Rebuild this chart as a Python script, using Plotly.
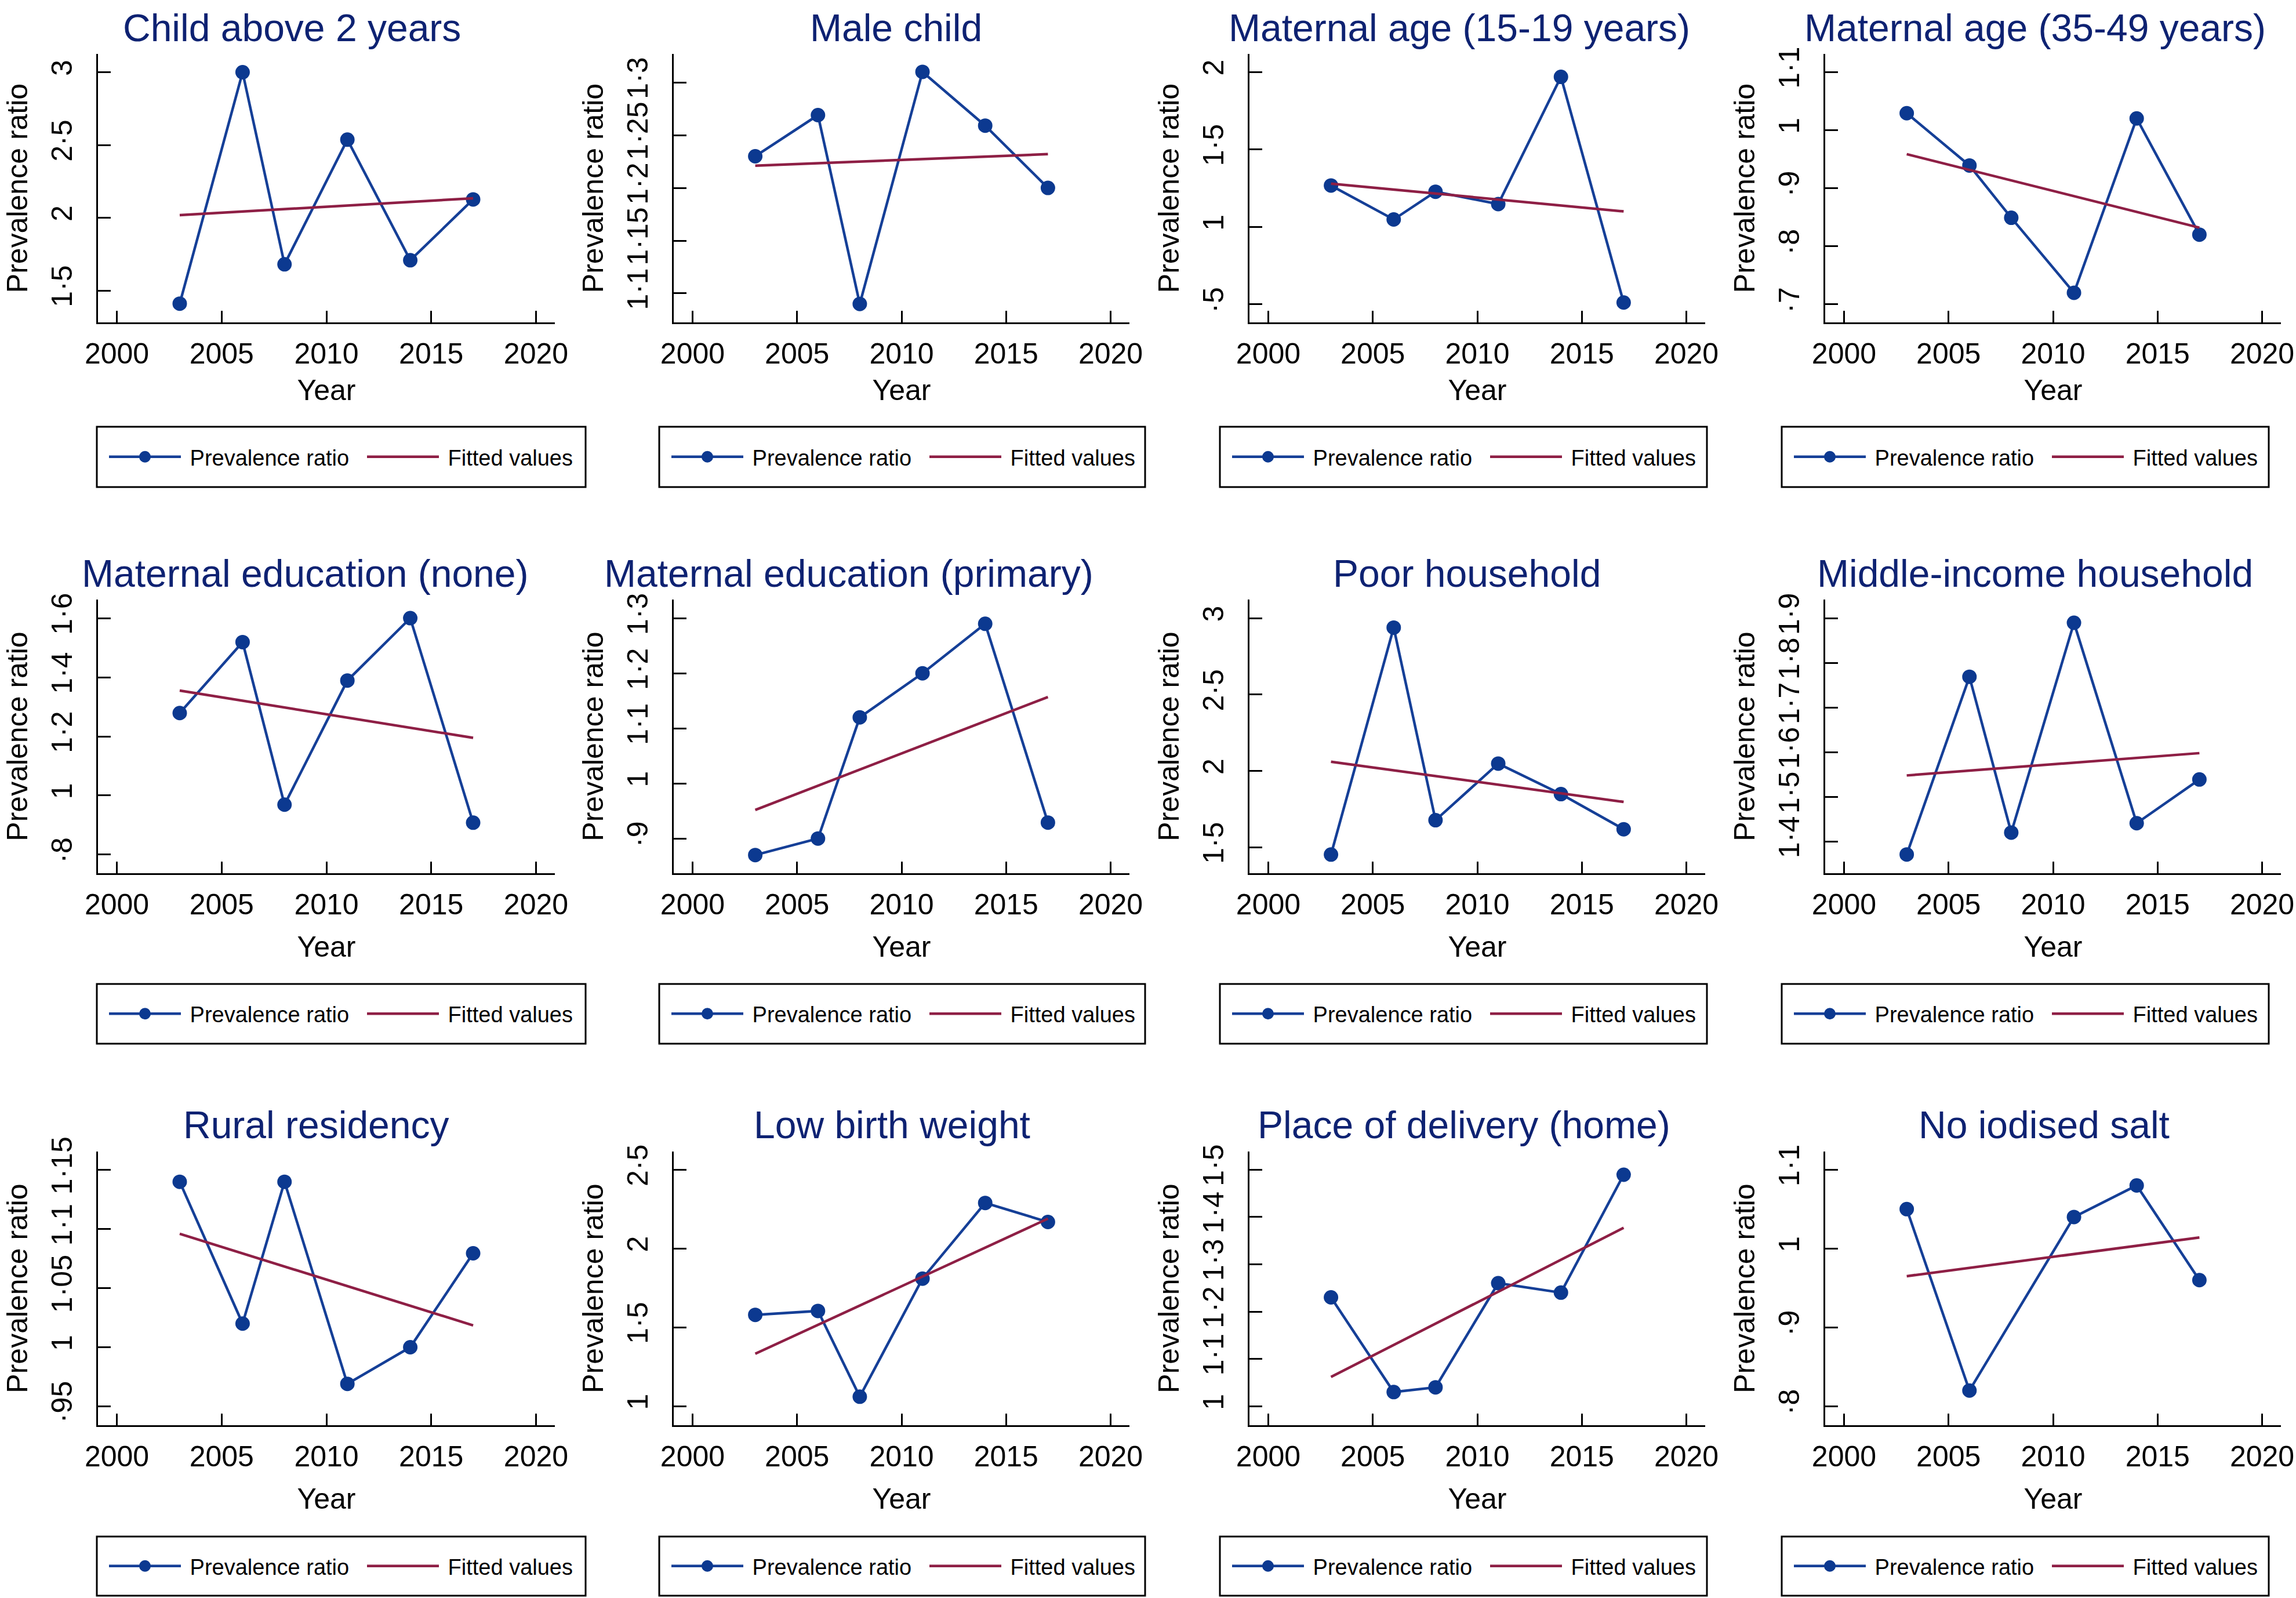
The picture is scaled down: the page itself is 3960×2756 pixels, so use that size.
import plotly.graph_objects as go

# ---------------- data ----------------
years = [2003, 2006, 2008, 2011, 2014, 2017]
years_salt = [2003, 2006, 2011, 2014, 2017]
fit_years = [2003, 2017]

titles = [
    "Child above 2 years", "Male child", "Maternal age (15-19 years)", "Maternal age (35-49 years)",
    "Maternal education (none)", "Maternal education (primary)", "Poor household", "Middle-income household",
    "Rural residency", "Low birth weight", "Place of delivery (home)", "No iodised salt",
]
legend_names = ["Prevalence ratio", "Fitted values"]

child_above_2 = [1.41, 3.00, 1.68, 2.537, 1.708, 2.126]
male_child = [1.230, 1.269, 1.090, 1.310, 1.259, 1.200]
mat_age_15_19 = [1.267, 1.048, 1.227, 1.147, 1.968, 0.512]
mat_age_35_49 = [1.029, 0.939, 0.849, 0.720, 1.020, 0.820]
mat_edu_none = [1.279, 1.519, 0.969, 1.389, 1.600, 0.908]
mat_edu_primary = [0.870, 0.900, 1.120, 1.200, 1.290, 0.929]
poor_household = [1.452, 2.938, 1.677, 2.048, 1.848, 1.618]
middle_income = [1.371, 1.769, 1.420, 1.890, 1.441, 1.539]
rural_residency = [1.140, 1.020, 1.140, 0.969, 1.000, 1.0795]
low_birth_weight = [1.579, 1.604, 1.060, 1.809, 2.289, 2.168]
home_delivery = [1.230, 1.030, 1.040, 1.260, 1.240, 1.489]
no_iodised_salt = [1.050, 0.820, 1.040, 1.080, 0.960]

# fitted (linear fit) values at 2003 and 2017
fit_child_above_2 = [2.018, 2.134]
fit_male_child = [1.221, 1.232]
fit_mat_age_15_19 = [1.279, 1.100]
fit_mat_age_35_49 = [0.9585, 0.832]
fit_mat_edu_none = [1.355, 1.195]
fit_mat_edu_primary = [0.952, 1.157]
fit_poor_household = [2.060, 1.797]
fit_middle_income = [1.548, 1.598]
fit_rural_residency = [1.096, 1.0185]
fit_low_birth_weight = [1.332, 2.189]
fit_home_delivery = [1.062, 1.377]
fit_no_iodised_salt = [0.965, 1.014]

# y tick values and labels
yticks = [
    [1.5, 2, 2.5, 3],
    [1.1, 1.15, 1.2, 1.25, 1.3],
    [0.5, 1, 1.5, 2],
    [0.7, 0.8, 0.9, 1, 1.1],
    [0.8, 1, 1.2, 1.4, 1.6],
    [0.9, 1, 1.1, 1.2, 1.3],
    [1.5, 2, 2.5, 3],
    [1.4, 1.5, 1.6, 1.7, 1.8, 1.9],
    [0.95, 1, 1.05, 1.1, 1.15],
    [1, 1.5, 2, 2.5],
    [1, 1.1, 1.2, 1.3, 1.4, 1.5],
    [0.8, 0.9, 1, 1.1],
]
yticklabels = [
    ["1·5", "2", "2·5", "3"],
    ["1·1", "1·15", "1·2", "1·25", "1·3"],
    ["·5", "1", "1·5", "2"],
    ["·7", "·8", "·9", "1", "1·1"],
    ["·8", "1", "1·2", "1·4", "1·6"],
    ["·9", "1", "1·1", "1·2", "1·3"],
    ["1·5", "2", "2·5", "3"],
    ["1·4", "1·5", "1·6", "1·7", "1·8", "1·9"],
    ["·95", "1", "1·05", "1·1", "1·15"],
    ["1", "1·5", "2", "2·5"],
    ["1", "1·1", "1·2", "1·3", "1·4", "1·5"],
    ["·8", "·9", "1", "1·1"],
]
xticks = [2000, 2005, 2010, 2015, 2020]
xticklabels = ["2000", "2005", "2010", "2015", "2020"]

series = [child_above_2, male_child, mat_age_15_19, mat_age_35_49, mat_edu_none, mat_edu_primary,
          poor_household, middle_income, rural_residency, low_birth_weight, home_delivery, no_iodised_salt]
fits = [fit_child_above_2, fit_male_child, fit_mat_age_15_19, fit_mat_age_35_49, fit_mat_edu_none,
        fit_mat_edu_primary, fit_poor_household, fit_middle_income, fit_rural_residency,
        fit_low_birth_weight, fit_home_delivery, fit_no_iodised_salt]
xs = [years] * 11 + [years_salt]

# ---------------- layout (pixels) ----------------
W, H = 3960, 2756
FONT = "Liberation Sans, Arial, Helvetica, sans-serif"
BLUE_LINE = "#153f97"
BLUE_MARK = "#0c3990"
MAROON = "#8e1f45"
TITLE_C = "#0e2272"

col_px = [(169, 957), (1162, 1948), (2155, 2941), (3148, 3934)]
row_px = [(93, 556), (1034, 1506), (1986, 2458)]
yranges = [
    [1.281, 3.126], [1.0725, 1.327], [0.384, 2.116], [0.669, 1.131],
    [0.737, 1.663], [0.837, 1.334], [1.33, 3.122], [1.329, 1.942],
    [0.934, 1.1656], [0.879, 2.615], [0.96, 1.538], [0.776, 1.123],
]
title_cx = [503, 1545, 2517, 3510, 526, 1464, 2530, 3510, 545, 1538, 2525, 3525]
title_cy = [45, 986, 1937]
year_standoff = [18, 28, 28]
legend_box_x = [(167, 1010), (1137, 1975), (2104, 2944), (3073, 3913)]
legend_box_y = [(736, 840), (1697, 1800), (2650, 2752)]
NBSP = "\u00a0"

fig = go.Figure()
layout = dict(
    template="none",
    width=W, height=H, margin=dict(l=0, r=0, t=0, b=0, autoexpand=False),
    paper_bgcolor="white", plot_bgcolor="white",
    font=dict(family=FONT, color="black", size=50),
    showlegend=True, hovermode=False,
)
annotations = []
shapes = []

for i in range(12):
    r, c = divmod(i, 4)
    k = "" if i == 0 else str(i + 1)
    leg = "legend" if i == 0 else f"legend{i + 1}"
    fig.add_trace(go.Scatter(
        x=xs[i], y=series[i], mode="lines+markers", name=NBSP + legend_names[0],
        xaxis="x" + k, yaxis="y" + k, legend=leg,
        line=dict(color=BLUE_LINE, width=4.5),
        marker=dict(color=BLUE_MARK, size=21, line=dict(color=BLUE_MARK, width=4)),
    ))
    fig.add_trace(go.Scatter(
        x=fit_years, y=fits[i], mode="lines", name=NBSP + legend_names[1],
        xaxis="x" + k, yaxis="y" + k, legend=leg,
        line=dict(color=MAROON, width=4.5),
    ))
    x0, x1 = col_px[c]
    y0, y1 = row_px[r]
    layout["xaxis" + k] = dict(
        domain=[x0 / W, x1 / W], anchor="y" + k, range=[1999.1, 2020.9],
        tickmode="array", tickvals=xticks, ticktext=xticklabels,
        ticks="inside", ticklen=20, tickwidth=3, tickcolor="black",
        showline=True, linewidth=3, linecolor="black", showgrid=False, zeroline=False,
        tickfont=dict(size=50, family=FONT), ticklabelstandoff=8, automargin=False,
        title=dict(text="Year", font=dict(size=50, family=FONT), standoff=year_standoff[r]),
        fixedrange=True,
    )
    layout["yaxis" + k] = dict(
        domain=[1 - y1 / H, 1 - y0 / H], anchor="x" + k, range=yranges[i],
        tickmode="array", tickvals=yticks[i], ticktext=yticklabels[i], tickangle=-90,
        ticks="inside", ticklen=22, tickwidth=3, tickcolor="black",
        showline=True, linewidth=3, linecolor="black", showgrid=False, zeroline=False,
        tickfont=dict(size=50, family=FONT), ticklabelstandoff=22, automargin=False,
        title=dict(text="Prevalence ratio", font=dict(size=50, family=FONT), standoff=16),
        fixedrange=True,
    )
    annotations.append(dict(
        text=titles[i], x=title_cx[i] / W, y=1 - (title_cy[r] + 3) / H,
        xref="paper", yref="paper", xanchor="center", yanchor="middle", showarrow=False,
        font=dict(size=66, color=TITLE_C, family=FONT),
    ))
    bx0, bx1 = legend_box_x[c]
    by0, by1 = legend_box_y[r]
    shapes.append(dict(
        type="rect", xref="paper", yref="paper",
        x0=bx0 / W, x1=bx1 / W, y0=1 - by1 / H, y1=1 - by0 / H,
        line=dict(color="black", width=3), fillcolor="rgba(0,0,0,0)", layer="below",
    ))
    layout[leg] = dict(
        orientation="h", x=(bx0 + 16) / W, xanchor="left",
        y=1 - ((by0 + by1) / 2) / H, yanchor="middle",
        font=dict(size=38, family=FONT, color="black"),
        itemwidth=124, entrywidth=306, entrywidthmode="pixels",
        bgcolor="rgba(0,0,0,0)", borderwidth=0,
    )

layout["annotations"] = annotations
layout["shapes"] = shapes
fig.update_layout(**layout)
fig.write_html("out.html", post_script="document.body.style.margin='0';",
               config={"displayModeBar": False})
